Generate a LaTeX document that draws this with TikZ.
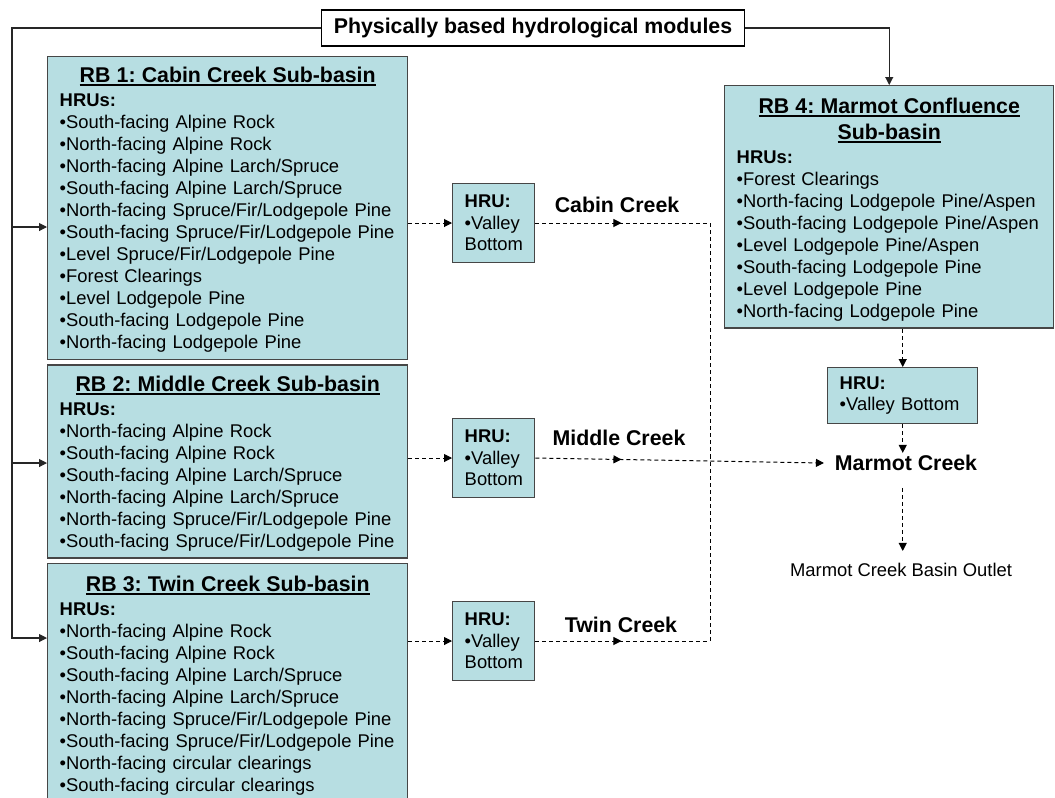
\documentclass[tikz,border=0pt]{standalone}
\usepackage{fontspec}
\setmainfont{Liberation Sans}
\usetikzlibrary{positioning,arrows.meta,decorations.markings}
\frenchspacing

\definecolor{boxfill}{RGB}{183,222,226}
\definecolor{boxline}{RGB}{70,70,70}
\newcommand{\itemfont}{\fontsize{13.8pt}{16.5pt}\selectfont}
\newcommand{\hrufont}{\fontsize{13.8pt}{16.1pt}\selectfont}
\newcommand{\headfont}{\fontsize{16pt}{16.5pt}\selectfont\bfseries}
% underlined, centred heading line of a sub-basin box
\newcommand{\rbhead}[1]{\leavevmode\setbox0=\hbox{\headfont #1}\hbox to\hsize{\hfil\rlap{\rule[-2.8pt]{\wd0}{1.6pt}}\box0\hfil}}

\begin{document}
\begin{tikzpicture}[x=0.75pt, y=-0.75pt,
    rbbox/.style={draw=boxline, line width=1.1pt, fill=boxfill, text width=252pt, inner xsep=9pt, inner ysep=5.25pt, align=left, font=\itemfont},
    hrubox/.style={draw=boxline, line width=1.1pt, fill=boxfill, text width=43.5pt, inner xsep=9pt, inner ysep=0pt, minimum height=59.25pt, align=left, font=\hrufont},
    creek/.style={font=\headfont, inner sep=1.5pt},
    link/.style={draw=black!85, line width=0.8pt, -{Triangle[length=6pt,width=6pt]}},
    dashline/.style={line width=0.75pt, dash pattern=on 3pt off 2.25pt},
    flow/.style={dashline, -{Triangle[length=6pt,width=6pt]}},
    midtip/.style={postaction={decorate, decoration={markings, mark=at position #1 with {\arrow{Triangle[length=6pt,width=6pt]}}}}}]
  \useasboundingbox (0,0) rectangle (1055,797);

  % modules box
  \node[draw, line width=0.9pt, fill=white, font=\headfont, minimum height=27pt, inner xsep=9pt] (phys) at (533,28) {Physically based hydrological modules};

  % sub-basins
  \node[rbbox, anchor=north west] (rb1) at (47,56) {\rule{0pt}{14.25pt}\rbhead{RB 1: Cabin Creek Sub-basin}\\[1.5pt]
    \textbf{HRUs:}\\
    •South-facing Alpine Rock\\
    •North-facing Alpine Rock\\
    •North-facing Alpine Larch/Spruce\\
    •South-facing Alpine Larch/Spruce\\
    •North-facing Spruce/Fir/Lodgepole Pine\\
    •South-facing Spruce/Fir/Lodgepole Pine\\
    •Level Spruce/Fir/Lodgepole Pine\\
    •Forest Clearings\\
    •Level Lodgepole Pine\\
    •South-facing Lodgepole Pine\\
    •North-facing Lodgepole Pine};
  \node[rbbox, below=3pt of rb1] (rb2) {\rule{0pt}{14.25pt}\rbhead{RB 2: Middle Creek Sub-basin}\\[1.5pt]
    \textbf{HRUs:}\\
    •North-facing Alpine Rock\\
    •South-facing Alpine Rock\\
    •South-facing Alpine Larch/Spruce\\
    •North-facing Alpine Larch/Spruce\\
    •North-facing Spruce/Fir/Lodgepole Pine\\
    •South-facing Spruce/Fir/Lodgepole Pine};
  \node[rbbox, inner ysep=7pt, below=3pt of rb2] (rb3) {\rule{0pt}{14.25pt}\rbhead{RB 3: Twin Creek Sub-basin}\\[1.5pt]
    \textbf{HRUs:}\\
    •North-facing Alpine Rock\\
    •South-facing Alpine Rock\\
    •South-facing Alpine Larch/Spruce\\
    •North-facing Alpine Larch/Spruce\\
    •North-facing Spruce/Fir/Lodgepole Pine\\
    •South-facing Spruce/Fir/Lodgepole Pine\\
    •North-facing circular clearings\\
    •South-facing circular clearings\rule[-12pt]{0pt}{1pt}};
  \node[rbbox, text width=228.75pt, anchor=north west] (rb4) at (724,85) {\rule{0pt}{15.5pt}\rbhead{RB 4: Marmot Confluence}\\[2.7pt]
    \rbhead{Sub-basin}\\[1.8pt]
    \textbf{HRUs:}\\
    •Forest Clearings\\
    •North-facing Lodgepole Pine/Aspen\\
    •South-facing Lodgepole Pine/Aspen\\
    •Level Lodgepole Pine/Aspen\\
    •South-facing Lodgepole Pine\\
    •Level Lodgepole Pine\\
    •North-facing Lodgepole Pine};

  % valley bottoms
  \node[hrubox, anchor=west] (vb1) at (452,223) {\textbf{HRU:}\\•Valley\\Bottom};
  \node[hrubox, anchor=west] (vb2) at (452,458) {\textbf{HRU:}\\•Valley\\Bottom};
  \node[hrubox, anchor=west] (vb3) at (452,641) {\textbf{HRU:}\\•Valley\\Bottom};
  \node[hrubox, text width=94.5pt, minimum height=42pt, anchor=north west] (vb4) at (827,367) {\textbf{HRU:}\\•Valley Bottom};

  % streams
  \node[creek] (cabin) at (617,205) {Cabin Creek};
  \node[creek] (middle) at (619,438) {Middle Creek};
  \node[creek] (twin) at (621,625) {Twin Creek};
  \node[creek, inner xsep=8pt] (marmot) at (906,463) {Marmot Creek};
  \node[font=\itemfont, inner ysep=9pt] (outlet) at (901,570) {Marmot Creek Basin Outlet};

  \coordinate (tap1) at (12,227);
  \coordinate (tap2) at (12,463);
  \coordinate (bus) at (12,638);
  \coordinate (join) at (710,458);

  % modules to sub-basins
  \draw[link] (phys.west) -| (bus) -- (rb3.west |- bus);
  \draw[link] (tap1) -- (rb1.west |- tap1);
  \draw[link] (tap2) -- (rb2.west |- tap2);
  \draw[link] (phys.east) -| (rb4.north);

  % routing
  \draw[flow] (rb1.east |- vb1.west) -- (vb1.west);
  \draw[flow] (rb2.east |- vb2.west) -- (vb2.west);
  \draw[flow] (rb3.east |- vb3.west) -- (vb3.west);
  \draw[dashline, midtip=64.5pt] (vb1.east) -| (join);
  \draw[dashline, midtip=64.5pt] (vb3.east) -| (join);
  \draw[flow, midtip=64.5pt] (vb2.east) -- (marmot.west);
  \draw[flow] (vb4.north |- rb4.south) -- (vb4.north);
  \draw[flow] (vb4.south) -- (vb4.south |- marmot.north);
  \draw[flow, shorten <=11pt] (vb4.south |- marmot.south) -- (vb4.south |- outlet.north);
\end{tikzpicture}
\end{document}
